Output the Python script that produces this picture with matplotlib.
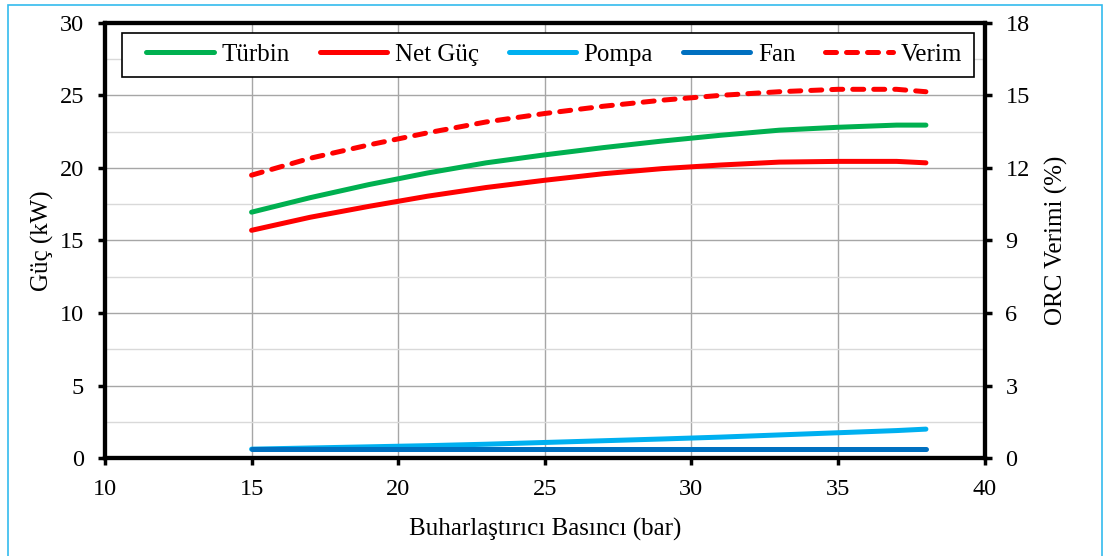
import numpy as np
import matplotlib.pyplot as plt
from matplotlib.patches import Rectangle

plt.rcParams['font.family'] = ['Liberation Serif', 'DejaVu Serif']
plt.rcParams['font.size'] = 18

# buharlaştırıcı basıncı (bar)
basinc = [15, 17, 19, 21, 23, 25, 27, 29, 31, 33, 35, 37, 38]
turbin = [16.95, 17.95, 18.85, 19.65, 20.35, 20.9, 21.4, 21.85, 22.25, 22.6, 22.8, 22.95, 22.95]
net_guc = [15.7, 16.6, 17.35, 18.05, 18.65, 19.15, 19.6, 19.95, 20.2, 20.4, 20.45, 20.45, 20.35]
pompa = [0.62, 0.7, 0.78, 0.86, 0.96, 1.08, 1.2, 1.32, 1.45, 1.6, 1.75, 1.9, 2.0]
fan = [0.6] * len(basinc)
verim = [11.7, 12.4, 12.95, 13.45, 13.9, 14.25, 14.55, 14.8, 15.0, 15.15, 15.25, 15.25, 15.15]

fig = plt.figure(figsize=(11.05, 5.56), dpi=100)
fig.patches.append(Rectangle((0.0072, -0.01), 0.9905, 1.001, transform=fig.transFigure,
                             fill=False, edgecolor='#33bbee', linewidth=1.2))
ax = fig.add_axes([0.095, 0.176, 0.796, 0.783])
ax2 = ax.twinx()

lw = 3.6
l1, = ax.plot(basinc, turbin, color='#00B050', lw=lw, solid_capstyle='round', label='Türbin')
l2, = ax.plot(basinc, net_guc, color='#FF0000', lw=lw, solid_capstyle='round', label='Net Güç')
l3, = ax.plot(basinc, pompa, color='#00B0F0', lw=lw, solid_capstyle='round', label='Pompa')
l4, = ax.plot(basinc, fan, color='#0070C0', lw=lw, solid_capstyle='round', label='Fan')
l5, = ax2.plot(basinc, verim, color='#FF0000', lw=lw, dashes=(2.2, 2.0), dash_capstyle='round', label='Verim')

ax.set_xlim(10, 40)
ax.set_ylim(0, 30)
ax.set_xticks(range(10, 41, 5))
ax.set_yticks(range(0, 31, 5))
ax.set_yticks(np.arange(2.5, 30, 5), minor=True)
ax2.set_ylim(0, 18)
ax2.set_yticks(range(0, 19, 3))

ax.grid(True, which='major', color='#a6a6a6', lw=1)
ax.grid(True, which='minor', axis='y', color='#d9d9d9', lw=1)
ax.tick_params(which='minor', length=0)
ax.tick_params(which='major', direction='out', length=5, width=2.5, pad=10, labelsize=17.5)
ax2.tick_params(which='major', direction='out', length=5, width=2.5, pad=10, labelsize=17.5)
for a in (ax, ax2):
    for s in a.spines.values():
        s.set_linewidth(3)

ax.set_xlabel('Buharlaştırıcı Basıncı (bar)', labelpad=13)
ax.set_ylabel('Güç (kW)', labelpad=4)
ax2.set_ylabel('ORC Verimi (%)', labelpad=11)

# legend frame drawn separately so the entries sit like the original
ax2.add_patch(Rectangle((0.019, 0.876), 0.969, 0.101, transform=ax2.transAxes,
                        facecolor='white', edgecolor='black', linewidth=1.2, zorder=4))
leg = ax2.legend(handles=[l1, l2, l3, l4, l5], ncol=5, loc='center',
                 bbox_to_anchor=(0.5105, 0.9265), frameon=False,
                 handlelength=2.7, handletextpad=0.3, columnspacing=1.2)

fig.savefig('out.png', dpi=100)
